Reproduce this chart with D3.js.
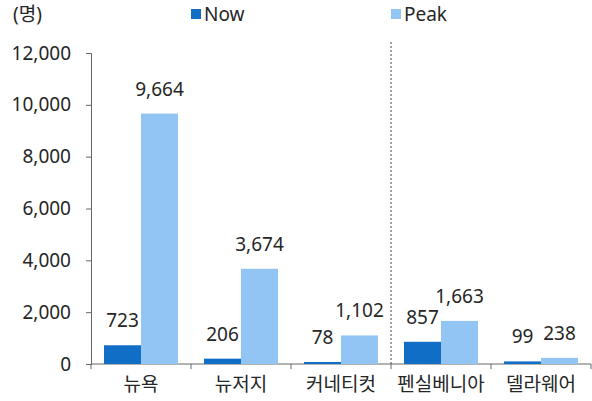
<!DOCTYPE html>
<html>
<head>
<meta charset="utf-8">
<script src="https://cdn.jsdelivr.net/npm/d3@7"></script>
<style>
  body { margin: 0; background: #fff; }
  text { font-family: "Noto Sans", "Noto Sans CJK KR", sans-serif; fill: #262626; font-weight: 400; }
</style>
</head>
<body>
<div id="chart"></div>
<script>
/* DATA */
const regions = ["뉴욕", "뉴저지", "커네티컷", "펜실베니아", "델라웨어"];
const nowValues = [723, 206, 78, 857, 99];
const peakValues = [9664, 3674, 1102, 1663, 238];
const seriesNames = ["Now", "Peak"];
const yTicks = [0, 2000, 4000, 6000, 8000, 10000, 12000];

/* CONSTANTS */
const width = 592, height = 401;
const margin = { top: 53, right: 1, bottom: 37, left: 91 };
const colors = { Now: "#106ec7", Peak: "#92c4f4" };
const fs = "19px";

const svg = d3.select("#chart").append("svg")
  .attr("width", width)
  .attr("height", height);

const x = d3.scaleBand()
  .domain(regions)
  .range([margin.left, width - margin.right])
  .paddingInner(0.26)
  .paddingOuter(0.13);

const x1 = d3.scaleBand()
  .domain(seriesNames)
  .range([0, x.bandwidth()]);

const y = d3.scaleLinear()
  .domain([0, 12000])
  .range([height - margin.bottom, margin.top]);

const data = regions.map((r, i) => ({ region: r, Now: nowValues[i], Peak: peakValues[i] }));

// y axis
const yAxis = svg.append("g")
  .attr("transform", `translate(${margin.left},0)`)
  .call(d3.axisLeft(y).tickValues(yTicks).tickSize(5).tickPadding(15).tickFormat(d3.format(",")));
yAxis.selectAll("text").style("font-size", fs).attr("fill", "#262626");
yAxis.selectAll("line, path").attr("stroke", "#666");

// x axis
const xAxis = svg.append("g")
  .attr("transform", `translate(0,${y(0)})`);
xAxis.append("line")
  .attr("x1", margin.left).attr("x2", width - margin.right)
  .attr("stroke", "#666");
xAxis.selectAll("line.tick")
  .data(d3.range(regions.length + 1))
  .join("line")
  .attr("class", "tick")
  .attr("x1", i => margin.left + i * (width - margin.right - margin.left) / regions.length)
  .attr("x2", i => margin.left + i * (width - margin.right - margin.left) / regions.length)
  .attr("y1", 0).attr("y2", 5)
  .attr("stroke", "#666");
xAxis.selectAll("text")
  .data(regions)
  .join("text")
  .attr("x", d => x(d) + x.bandwidth() / 2)
  .attr("y", 27)
  .attr("text-anchor", "middle")
  .style("font-size", fs)
  .text(d => d);

// divider between 커네티컷 and 펜실베니아
const divX = margin.left + 3 * (width - margin.right - margin.left) / regions.length;
svg.append("line")
  .attr("x1", divX).attr("x2", divX)
  .attr("y1", 42).attr("y2", y(0))
  .attr("stroke", "#444")
  .attr("stroke-dasharray", "2,2");

// bars
const groups = svg.selectAll("g.group")
  .data(data)
  .join("g")
  .attr("class", "group")
  .attr("transform", d => `translate(${x(d.region)},0)`);

groups.selectAll("rect")
  .data(d => seriesNames.map(k => ({ key: k, value: d[k] })))
  .join("rect")
  .attr("x", d => x1(d.key))
  .attr("width", x1.bandwidth())
  .attr("y", d => y(d.value))
  .attr("height", d => y(0) - y(d.value))
  .attr("fill", d => colors[d.key]);

groups.selectAll("text.val")
  .data(d => seriesNames.map(k => ({ key: k, value: d[k] })))
  .join("text")
  .attr("class", "val")
  .attr("x", d => x1(d.key) + x1.bandwidth() / 2)
  .attr("y", d => y(d.value) - 18)
  .attr("text-anchor", "middle")
  .style("font-size", fs)
  .text(d => d3.format(",")(d.value));

// unit label
svg.append("text")
  .attr("x", 13).attr("y", 21)
  .style("font-size", fs)
  .text("(명)");

// legend
const legend = svg.selectAll("g.legend")
  .data(seriesNames)
  .join("g")
  .attr("class", "legend")
  .attr("transform", (d, i) => `translate(${191 + i * 200},9)`);
legend.append("rect")
  .attr("width", 10).attr("height", 10)
  .attr("fill", d => colors[d]);
legend.append("text")
  .attr("x", 13).attr("y", 12)
  .style("font-size", fs)
  .text(d => d);
</script>
</body>
</html>
